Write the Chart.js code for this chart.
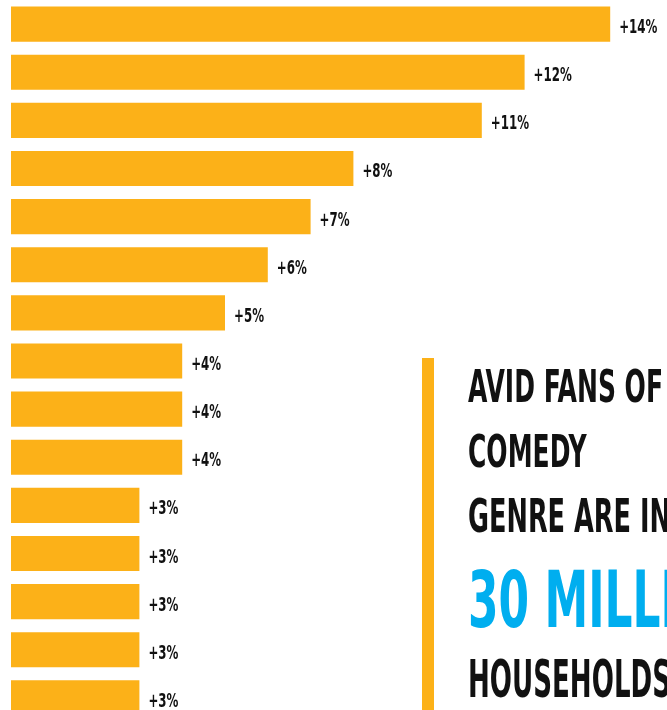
<!DOCTYPE html>
<html>
<head>
<meta charset="utf-8">
<script src="https://cdn.jsdelivr.net/npm/chart.js@4/dist/chart.umd.min.js"></script>
<style>
    html, body { margin: 0; padding: 0; background: #fff; overflow: hidden; }
    #wrap { position: relative; width: 667px; height: 722px; }
</style>
</head>
<body>
<div id="wrap"><canvas id="genre-chart"></canvas></div>
<script>
// genre lift values (%), one per bar, top to bottom
var categories = [ 'g1', 'g2', 'g3', 'g4', 'g5', 'g6', 'g7', 'g8', 'g9', 'g10', 'g11', 'g12', 'g13', 'g14', 'g15' ];
var lift = [ 14, 12, 11, 8, 7, 6, 5, 4, 4, 4, 3, 3, 3, 3, 3 ];
var calloutLines = [ 'AVID FANS OF', 'COMEDY', 'GENRE ARE IN', '30 MILLION', 'HOUSEHOLDS' ];

( function () {
    'use strict';

    var barColor = '#fcb118';
    var blue = '#00aeef';
    var fontFamily = "'Liberation Sans Narrow', 'DejaVu Sans Condensed', 'Roboto', sans-serif";

    // squeeze text horizontally so it reads like a condensed display face
    function condensedFactor( ctx, font, sample, target ) {
        ctx.save();
        ctx.font = font;
        var w = ctx.measureText( sample ).width;
        ctx.restore();
        return target / w;
    }

    function drawSqueezed( ctx, text, x, y, font, color, k ) {
        ctx.save();
        ctx.font = font;
        ctx.fillStyle = color;
        ctx.textAlign = 'left';
        ctx.textBaseline = 'alphabetic';
        ctx.translate( x, y );
        ctx.scale( k, 1 );
        ctx.fillText( text, 0, 0 );
        ctx.restore();
    }

    var valueLabels = {
        id: 'valueLabels',
        afterDatasetsDraw: function ( chart ) {
            var ctx = chart.ctx;
            var font = 'bold 20px ' + fontFamily;
            var k = condensedFactor( ctx, font, '+3%', 30 );
            chart.getDatasetMeta( 0 ).data.forEach( function ( bar, i ) {
                drawSqueezed( ctx, '+' + lift[ i ] + '%', bar.x + 9, bar.y + 9, font, '#111', k );
            } );
        }
    };

    var callout = {
        id: 'callout',
        afterDraw: function ( chart ) {
            var ctx = chart.ctx;
            ctx.save();
            ctx.fillStyle = barColor;
            ctx.fillRect( 422, 358, 12, 352 );
            ctx.restore();

            var small = 'bold 45px ' + fontFamily;
            var big = 'bold 52px ' + fontFamily;
            var k = condensedFactor( ctx, small, calloutLines[ 0 ], 195 );
            var kh = condensedFactor( ctx, big, calloutLines[ 4 ], 203 );
            drawSqueezed( ctx, calloutLines[ 0 ], 468, 402, small, '#111', k );
            drawSqueezed( ctx, calloutLines[ 1 ], 468, 467, small, '#111', k );
            drawSqueezed( ctx, calloutLines[ 2 ], 468, 532, 'bold 46px ' + fontFamily, '#111', k );
            drawSqueezed( ctx, calloutLines[ 3 ], 468, 627, 'bold 79px ' + fontFamily, blue, k );
            drawSqueezed( ctx, calloutLines[ 4 ], 468, 697, big, '#111', kh );
        }
    };

    new Chart( document.getElementById( 'genre-chart' ), {
        type: 'bar',
        data: {
            labels: categories,
            datasets: [ {
                data: lift,
                backgroundColor: barColor,
                borderWidth: 0,
                categoryPercentage: 1,
                barPercentage: 0.73,
            } ],
        },
        options: {
            indexAxis: 'y',
            responsive: true,
            maintainAspectRatio: false,
            animation: false,
            layout: { padding: { left: 11, right: 14, top: 0, bottom: 0 } },
            plugins: {
                legend: { display: false },
                tooltip: { enabled: false },
            },
            scales: {
                x: { display: false, min: 0, max: 15 },
                y: { display: false },
            },
        },
        plugins: [ valueLabels, callout ],
    } );
} )();
</script>
</body>
</html>
